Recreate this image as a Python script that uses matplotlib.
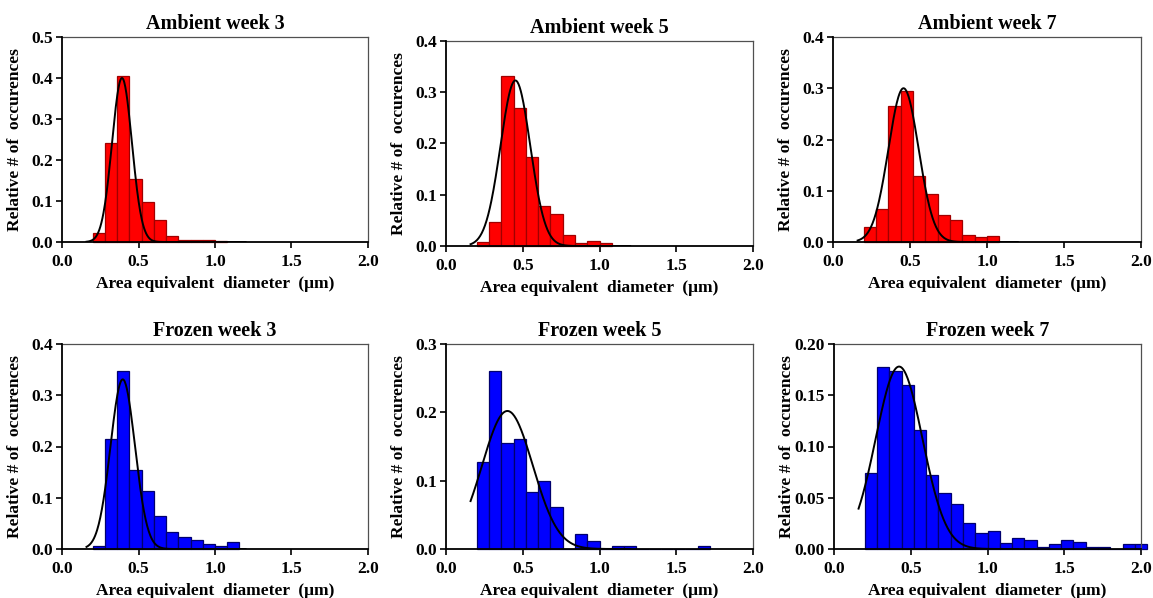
import matplotlib.pyplot as plt
import numpy as np
from matplotlib.ticker import FormatStrFormatter, MultipleLocator

plt.rcParams['font.family'] = ['Liberation Serif', 'DejaVu Serif']
plt.rcParams['font.weight'] = 'bold'

# histogram bins (um)
bin_start = 0.20
bin_width = 0.08

# relative number of occurrences per bin
ambient_week3 = [0.023, 0.242, 0.404, 0.154, 0.098, 0.054, 0.014, 0.006, 0.004, 0.004, 0.003]
ambient_week5 = [0.008, 0.046, 0.331, 0.270, 0.174, 0.079, 0.063, 0.022, 0.006, 0.010, 0.005]
ambient_week7 = [0.029, 0.065, 0.266, 0.294, 0.129, 0.094, 0.053, 0.042, 0.013, 0.009, 0.012]
frozen_week3 = [0.0065, 0.215, 0.347, 0.154, 0.113, 0.064, 0.033, 0.023, 0.017, 0.010, 0.0065, 0.013]
frozen_week5 = [0.127, 0.260, 0.155, 0.161, 0.083, 0.100, 0.061, 0.0, 0.022, 0.011, 0.0,
                0.005, 0.005, 0.0, 0.0, 0.0, 0.0, 0.0, 0.005]
frozen_week7 = [0.074, 0.178, 0.174, 0.160, 0.116, 0.072, 0.055, 0.044, 0.025, 0.016, 0.018,
                0.006, 0.011, 0.009, 0.002, 0.005, 0.009, 0.007, 0.002, 0.002, 0.0, 0.005, 0.005]

# gaussian fits: peak height, centre, sigma
fit_peak = [0.400, 0.323, 0.300, 0.331, 0.202, 0.178]
fit_center = [0.392, 0.452, 0.458, 0.397, 0.400, 0.424]
fit_sigma = [0.065, 0.097, 0.098, 0.080, 0.165, 0.152]
fit_range = (0.16, 1.2)

titles = ['Ambient week 3', 'Ambient week 5', 'Ambient week 7',
          'Frozen week 3', 'Frozen week 5', 'Frozen week 7']
y_max = [0.5, 0.4, 0.4, 0.4, 0.3, 0.20]
y_step = [0.1, 0.1, 0.1, 0.1, 0.1, 0.05]
y_fmt = ['%.1f', '%.1f', '%.1f', '%.1f', '%.1f', '%.2f']
series = [ambient_week3, ambient_week5, ambient_week7, frozen_week3, frozen_week5, frozen_week7]

W, H = 1153, 598
fig = plt.figure(figsize=(W / 100, H / 100), dpi=100)

# axes boxes in pixels: left, top, right, bottom
boxes = [(62, 37, 368, 242), (446, 41, 753, 246), (833, 37, 1141, 242),
         (62, 344, 368, 549), (446, 344, 753, 549), (834, 344, 1141, 549)]

for i, (l, t, r, b) in enumerate(boxes):
    ax = fig.add_axes([l / W, 1 - b / H, (r - l) / W, (b - t) / H])
    heights = series[i]
    x = bin_start + bin_width * np.arange(len(heights))
    if i < 3:
        face, edge = '#ff0000', '#a00000'
    else:
        face, edge = '#0000ff', '#00006e'
    ax.bar(x, heights, width=bin_width, align='edge', color=face,
           edgecolor=edge, linewidth=0.9, clip_on=False, zorder=2)

    xs = np.linspace(fit_range[0], fit_range[1], 300)
    ys = fit_peak[i] * np.exp(-0.5 * ((xs - fit_center[i]) / fit_sigma[i]) ** 2)
    ax.plot(xs, ys, color='black', linewidth=1.4, zorder=3)

    ax.set_xlim(0, 2.0)
    ax.set_ylim(0, y_max[i])
    ax.xaxis.set_major_locator(MultipleLocator(0.5))
    ax.yaxis.set_major_locator(MultipleLocator(y_step[i]))
    ax.xaxis.set_major_formatter(FormatStrFormatter('%.1f'))
    ax.yaxis.set_major_formatter(FormatStrFormatter(y_fmt[i]))
    ax.tick_params(direction='out', length=4.5, width=1.2, labelsize=12.5,
                   top=False, right=False)
    ax.tick_params(axis='x', pad=4)
    ax.tick_params(axis='y', pad=2)

    for side in ('left', 'bottom'):
        ax.spines[side].set_linewidth(1.3)
        ax.spines[side].set_color('black')
        ax.spines[side].set_zorder(4)
    for side in ('top', 'right'):
        ax.spines[side].set_linewidth(0.9)
        ax.spines[side].set_color('#505050')

    ax.set_title(titles[i], fontsize=14.5, fontweight='bold', pad=6)
    ax.set_xlabel('Area equivalent  diameter  (\u03bcm)', fontsize=12.5, fontweight='bold')
    ax.set_ylabel('Relative # of  occurences', fontsize=12.5, fontweight='bold')
    ax.xaxis.set_label_coords(0.5, -0.165)
    ax.yaxis.set_label_coords(-39 / (r - l), 0.5)

fig.savefig('out.png', dpi=100)
